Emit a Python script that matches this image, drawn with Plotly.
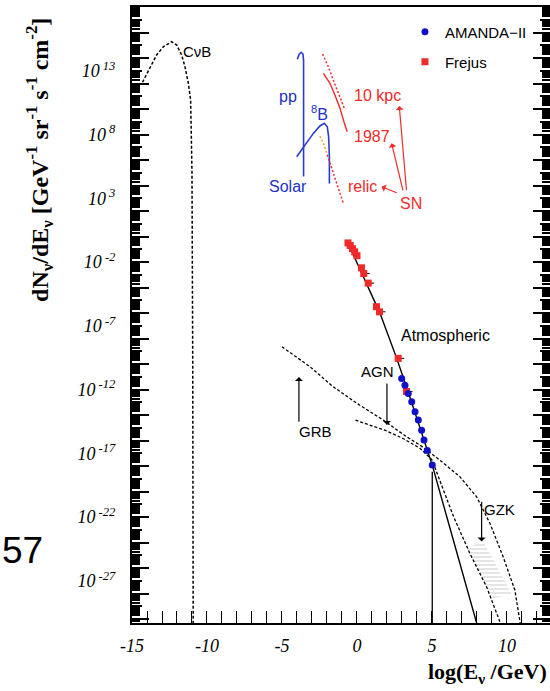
import plotly.graph_objects as go

# ---------------- data: x = log10(E/GeV), y = log10(dN/dE) ----------------
cnub_logE = [-14.3, -13.8, -13.36, -12.9, -12.36, -12.02, -11.69, -11.47, -11.24, -11.09, -11.0, -10.95, -10.92]
cnub_logF = [12.1, 13.3, 14.24, 14.89, 15.28, 15.02, 14.24, 13.32, 12.0, 10.7, 5.0, -10.0, -31.0]

pp_logE = [-3.98, -3.85, -3.72, -3.6, -3.56, -3.56]
pp_logF = [13.9, 14.3, 14.45, 14.3, 13.8, 4.7]

b8_logE = [-4.02, -3.47, -2.91, -2.47, -2.18, -1.98, -1.89, -1.84, -1.84]
b8_logF = [6.26, 7.18, 8.09, 8.67, 8.88, 8.61, 7.83, 6.26, 4.17]

sn10kpc_logE = [-2.29, -1.91, -1.58, -1.24, -0.95, -0.8]
sn10kpc_logF = [14.31, 13.32, 12.27, 11.23, 10.31, 9.92]

sn1987_logE = [-2.24, -1.8, -1.47, -1.13, -0.87, -0.65]
sn1987_logF = [12.8, 12.02, 11.1, 10.05, 9.0, 8.22]

hep_logE = [-2.47, -2.2, -1.98]
hep_logF = [7.88, 7.2, 6.4]
relic_logE = [-1.98, -1.47, -1.13, -0.91]
relic_logF = [6.4, 4.69, 3.39, 2.6]

frejus_logE = [-0.6, -0.45, -0.3, -0.15, 0.0, 0.3, 0.45, 0.75, 1.3, 1.5, 2.75, 3.3]
frejus_logF = [-0.5, -0.7, -0.95, -1.2, -1.5, -2.45, -2.9, -3.65, -5.5, -5.9, -9.55, -12.15]
frejus_err_hi = [0, 0, 0, 0, 0, 0, 0.4, 0.4, 0, 0.4, 0.4, 0.4]
frejus_err_lo = [0, 0, 0, 0, 0, 0, 0.1, 0.1, 0, 0.1, 0.1, 0.1]

amanda_logE = [2.98, 3.2, 3.42, 3.65, 3.87, 4.09, 4.31, 4.47, 4.69, 5.02]
amanda_logF = [-11.12, -11.65, -12.3, -12.96, -13.74, -14.39, -15.18, -15.96, -16.78, -17.92]

atm_logE = [-0.6, 1.53, 2.65, 3.42, 5.02, 6.42, 7.98, 8.05]
atm_logF = [-0.5, -6.0, -9.55, -12.2, -17.92, -23.8, -30.3, -30.6]

cut_logE = [5.02, 5.02]
cut_logF = [-18.45, -31.0]

grb_logE = [-5.0, -3.13, -1.58, 0.0, 1.75, 3.31, 4.2, 4.65, 5.53, 6.87, 7.98, 8.87, 9.75, 10.53, 10.87, 10.95]
grb_logF = [-8.64, -10.21, -11.78, -13.08, -14.39, -15.7, -16.35, -16.75, -17.53, -18.84, -20.41, -22.5, -25.12, -27.73, -30.2, -30.8]

agn_logE = [-0.1, 1.9, 3.1, 4.2, 5.0, 5.5, 6.42, 7.53, 8.64, 9.53, 9.6]
agn_logF = [-14.4, -15.2, -15.85, -16.6, -17.5, -19.0, -21.9, -24.85, -27.46, -30.2, -30.5]

gzk_logE = [7.31, 8.42, 10.31, 9.09, 7.31]
gzk_logF = [-24.4, -23.9, -28.0, -28.4, -24.4]

y_label_exps = [13, 8, 3, -2, -7, -12, -17, -22, -27]
x_label_vals = [-15, -10, -5, 0, 5, 10]

RED = "#f02a2a"
BLUE = "#2b3bd0"
BLUE_T = "#2230c8"


def p(vals):
    return [10 ** v for v in vals]


fig = go.Figure()

def line(xs, ys, color, dash="solid", width=1.5, yaxis="y"):
    fig.add_trace(go.Scatter(x=xs, y=p(ys), mode="lines", showlegend=False,
                             hoverinfo="skip", yaxis=yaxis,
                             line=dict(color=color, width=width, dash=dash)))

# GZK hatched band
fig.add_trace(go.Scatter(x=gzk_logE, y=p(gzk_logF), mode="lines", fill="toself",
                         fillcolor="rgba(0,0,0,0)", line=dict(width=0),
                         fillpattern=dict(shape="-", fgcolor="#b5b5b5", bgcolor="rgba(0,0,0,0)",
                                          size=4, solidity=0.35),
                         showlegend=False, hoverinfo="skip"))

line(cnub_logE, cnub_logF, "black", dash="3px,2px", width=1.5)
line(pp_logE, pp_logF, BLUE, width=1.6)
line(b8_logE, b8_logF, BLUE, width=1.6)
line(sn10kpc_logE, sn10kpc_logF, RED, dash="2px,2px", width=1.5)
line(sn1987_logE, sn1987_logF, RED, width=1.4)
line(hep_logE, hep_logF, "#e0a030", dash="2px,2px", width=1.5)
line(relic_logE, relic_logF, RED, dash="2px,2px", width=1.5)
line(grb_logE, grb_logF, "black", dash="3px,2px", width=1.3)
line(agn_logE, agn_logF, "black", dash="3px,2px", width=1.3)
line(atm_logE, atm_logF, "black", width=1.4)
line(cut_logE, cut_logF, "black", width=1.3)

fig.add_trace(go.Scatter(x=frejus_logE, y=p(frejus_logF), mode="markers", name="Frejus",
                         marker=dict(symbol="square", size=7, color=RED),
                         error_x=dict(type="data", array=frejus_err_hi, arrayminus=frejus_err_lo,
                                      color="black", thickness=1, width=0),
                         legend="legend2", hoverinfo="skip"))
fig.add_trace(go.Scatter(x=amanda_logE, y=p(amanda_logF), mode="markers", name="AMANDA\u2212II",
                         marker=dict(symbol="circle", size=7, color="#1010c8"),
                         legend="legend", hoverinfo="skip"))

# dummy trace to activate the overlay axis carrying the long ticks
fig.add_trace(go.Scatter(x=[-100], y=[1], mode="markers", yaxis="y2", showlegend=False,
                         hoverinfo="skip", marker=dict(opacity=0)))

# ---------------- text labels ----------------
def label(text, x, y, color="black", size=16, xanchor="center"):
    fig.add_annotation(x=x, y=y, xref="x", yref="y", text=text, showarrow=False,
                       xanchor=xanchor, yanchor="middle",
                       font=dict(family="Liberation Sans", size=size, color=color))

label("C\u03bdB", -9.6, 14.55, size=15, xanchor="right")
label("pp", -4.58, 10.96, BLUE_T, 16)
label("<sup>8</sup>B", -2.47, 9.66, BLUE_T, 16)
label("Solar", -4.63, 3.91, BLUE_T, 16)
label("10 kpc", 1.37, 11.1, RED, 16)
label("1987", 0.98, 7.83, RED, 16)
label("relic", 0.37, 3.91, RED, 16)
label("SN", 3.6, 2.6, RED, 16)
label("Atmospheric", 5.93, -7.73, "black", 16)
label("AGN", 1.4, -10.6, "black", 15)
label("GRB", -2.75, -15.31, "black", 15)
label("GZK", 9.47, -21.37, "black", 15)

def arrow(hx, hy, tx, ty, color="black"):
    fig.add_annotation(x=hx, y=hy, ax=tx, ay=ty, xref="x", yref="y", axref="x", ayref="y",
                       text="", showarrow=True, arrowhead=1, arrowsize=1.1, arrowwidth=1.2,
                       arrowcolor=color, standoff=0, startstandoff=0)

arrow(-3.87, -11.02, -3.87, -14.63)
arrow(2.0, -14.78, 2.0, -11.41)
arrow(8.31, -23.9, 8.31, -20.67)
arrow(2.82, 10.24, 3.31, 3.51, RED)
arrow(2.31, 7.31, 3.09, 3.51, RED)
arrow(1.64, 3.91, 2.75, 3.39, RED)

# axis titles
fig.add_annotation(xref="paper", yref="paper", x=-0.222, y=0.752, textangle=-90,
                   text="dN<sub>\u03bd</sub>/dE<sub>\u03bd</sub> [GeV<sup>-1</sup> sr<sup>-1</sup> s<sup>-1</sup> cm<sup>-2</sup>]",
                   showarrow=False, xanchor="center", yanchor="middle",
                   font=dict(family="Liberation Serif", size=24, color="black", weight="bold"))
fig.add_annotation(xref="paper", yref="paper", x=0.997, y=-0.081,
                   text="log(E<sub>\u03bd</sub> /GeV)", showarrow=False,
                   xanchor="right", yanchor="middle",
                   font=dict(family="Liberation Serif", size=22, color="black", weight="bold"))
fig.add_annotation(xref="paper", yref="paper", x=-0.3158, y=0.117, text="57",
                   showarrow=False, xanchor="left", yanchor="middle",
                   font=dict(family="Liberation Sans", size=37, color="black"))

# ---------------- axes ----------------
decades = list(range(-30, 19))
ytickvals = [10 ** n for n in decades]
yticktext = [("<i>10<sup> %d</sup></i>" % n) if n in y_label_exps else "" for n in decades]
minor_vals = [k * 10 ** n for n in range(-31, 19) for k in range(2, 10)]
even_vals = [10 ** n for n in range(-30, 19, 2)]

fig.update_layout(
    width=550, height=691,
    margin=dict(l=132, r=0, t=7, b=68, autoexpand=False),
    paper_bgcolor="white", plot_bgcolor="white",
    hovermode=False,
    xaxis=dict(range=[-15, 12.87], showgrid=False, zeroline=False, automargin=False,
               showline=True, linecolor="black", linewidth=2, mirror=True,
               ticks="inside", ticklen=12, tickwidth=1.4, tickcolor="black",
               tickmode="array", tickvals=list(range(-15, 13)),
               ticktext=[("<i>%d</i>" % v) if v in x_label_vals else "" for v in range(-15, 13)],
               tickfont=dict(family="Liberation Serif", size=18, color="black"),
               ticklabelstandoff=5),
    yaxis=dict(type="log", range=[-30.3, 18.0], showgrid=False, zeroline=False, automargin=False,
               showline=True, linecolor="black", linewidth=2, mirror="ticks",
               ticks="inside", ticklen=10, tickwidth=1.6, tickcolor="black",
               tickmode="array", tickvals=ytickvals, ticktext=yticktext,
               tickfont=dict(family="Liberation Serif", size=18, color="black"),
               ticklabelstandoff=11,
               minor=dict(tickmode="array", tickvals=minor_vals, ticks="inside",
                          ticklen=8, tickwidth=2, tickcolor="black")),
    yaxis2=dict(type="log", range=[-30.3, 18.0], overlaying="y", side="left", anchor="x",
                showgrid=False, zeroline=False, showline=False, mirror="ticks", automargin=False,
                ticks="inside", ticklen=17, tickwidth=1.6, tickcolor="black",
                tickmode="array", tickvals=even_vals, showticklabels=False),
    legend=dict(x=0.653, y=0.9594, xanchor="left", yanchor="middle",
                bgcolor="rgba(0,0,0,0)",
                font=dict(family="Liberation Sans", size=15, color="black")),
    legend2=dict(x=0.653, y=0.9107, xanchor="left", yanchor="middle",
                 bgcolor="rgba(0,0,0,0)",
                 font=dict(family="Liberation Sans", size=15, color="black")),
)

fig.write_html("out.html", config={"displayModeBar": False},
               post_script="document.body.style.margin='0';")
